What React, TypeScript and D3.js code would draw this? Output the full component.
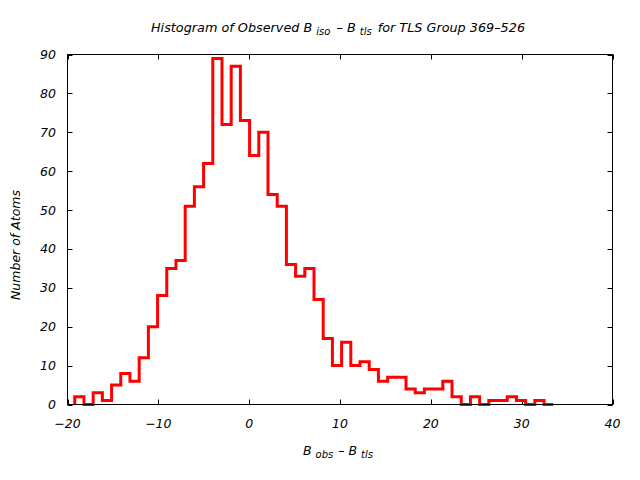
import React from "react";
import * as d3 from "d3";

const binStart = -19.2;
const binWidth = 1.013;
const counts = [
  2, 0, 3, 1, 5, 8, 6, 12, 20, 28,
  35, 37, 51, 56, 62, 89, 72, 87, 73, 64,
  70, 54, 51, 36, 33, 35, 27, 17, 10, 16,
  10, 11, 9, 6, 7, 7, 4, 3, 4, 4,
  6, 2, 0, 2, 0, 1, 1, 2, 1, 0,
  1, 0,
];
const xTicks = [-20, -10, 0, 10, 20, 30, 40];
const yTicks = [0, 10, 20, 30, 40, 50, 60, 70, 80, 90];

const W = 640, H = 480;
const left = 67.5, right = 612.5, top = 54.5, bottom = 404.5;
const font = "'DejaVu Sans', Verdana, sans-serif";

export default function App() {
  const x = d3.scaleLinear().domain([-20, 40]).range([left, right]);
  const y = d3.scaleLinear().domain([0, 90]).range([bottom, top]);

  const pts: [number, number][] = [];
  pts.push([binStart, 0]);
  counts.forEach((c, i) => {
    const x0 = binStart + i * binWidth;
    pts.push([x0, c]);
    pts.push([x0 + binWidth, c]);
  });
  const line = d3.line<[number, number]>().x((d) => x(d[0])).y((d) => y(d[1]));
  const tl = 5;

  return (
    <svg width={W} height={H} style={{ display: "block", position: "absolute", left: 0, top: 0 }}>
      <rect width={W} height={H} fill="#fff" />
      <text x={338} y={32} textAnchor="middle" fontFamily={font} fontStyle="italic" fontSize={12.8} fill="#000">
        Histogram of Observed B <tspan fontSize={10} dy={3}>iso</tspan>
        <tspan dy={-3} dx={6}>– B </tspan>
        <tspan fontSize={10} dy={3}>tls</tspan>
        <tspan dy={-3} dx={6}>for TLS Group 369–526</tspan>
      </text>
      {yTicks.map((t) => (
        <g key={"y" + t}>
          <line x1={left} x2={left + tl} y1={Math.round(y(t)) + 0.5} y2={Math.round(y(t)) + 0.5} stroke="#000" />
          <line x1={right} x2={right - tl} y1={Math.round(y(t)) + 0.5} y2={Math.round(y(t)) + 0.5} stroke="#000" />
          <text x={56} y={y(t) + 4.5} textAnchor="end" fontFamily={font} fontStyle="italic" fontSize={12.5}>
            {t}
          </text>
        </g>
      ))}
      {xTicks.map((t) => (
        <g key={"x" + t}>
          <line x1={Math.round(x(t)) + 0.5} x2={Math.round(x(t)) + 0.5} y1={bottom} y2={bottom - tl} stroke="#000" />
          <line x1={Math.round(x(t)) + 0.5} x2={Math.round(x(t)) + 0.5} y1={top} y2={top + tl} stroke="#000" />
          <text x={x(t)} y={428} textAnchor="middle" fontFamily={font} fontStyle="italic" fontSize={12.5}>
            {t === 0 ? "0" : t < 0 ? "−" + Math.abs(t) : t}
          </text>
        </g>
      ))}
      <path d={line(pts) || ""} fill="none" stroke="#ff0000" strokeWidth={3} />
      <rect x={left} y={top} width={right - left} height={bottom - top} fill="none" stroke="#000" />
      <text x={338} y={455} textAnchor="middle" fontFamily={font} fontStyle="italic" fontSize={12.5}>
        B <tspan fontSize={10} dy={3}>obs</tspan>
        <tspan dy={-3} dx={5}>– B </tspan>
        <tspan fontSize={10} dy={3}>tls</tspan>
      </text>
      <text transform="translate(20,245) rotate(-90)" textAnchor="middle" fontFamily={font} fontStyle="italic" fontSize={12.5}>
        Number of Atoms
      </text>
    </svg>
  );
}
